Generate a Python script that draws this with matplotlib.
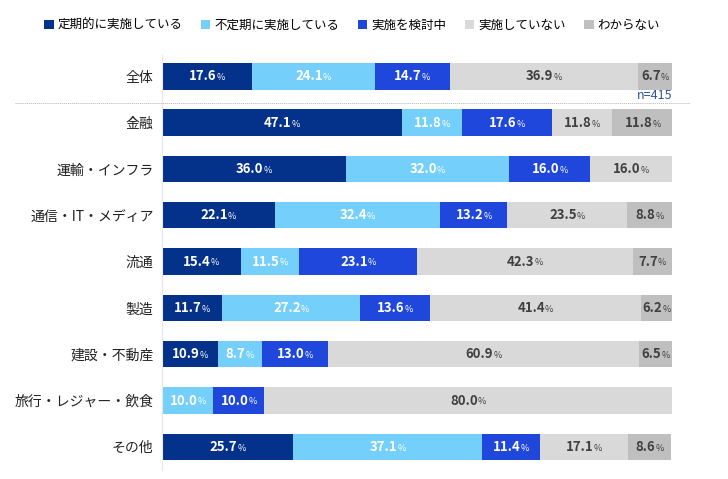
import matplotlib
matplotlib.use("Agg")
import matplotlib.pyplot as plt
from matplotlib.patches import Patch
from matplotlib.lines import Line2D

plt.rcParams['font.family'] = ['Noto Sans CJK JP', 'DejaVu Sans']

categories = ["全体", "金融", "運輸・インフラ", "通信・IT・メディア", "流通", "製造",
              "建設・不動産", "旅行・レジャー・飲食", "その他"]
series_names = ["定期的に実施している", "不定期に実施している", "実施を検討中",
                "実施していない", "わからない"]
regular = [17.6, 47.1, 36.0, 22.1, 15.4, 11.7, 10.9, 0.0, 25.7]
irregular = [24.1, 11.8, 32.0, 32.4, 11.5, 27.2, 8.7, 10.0, 37.1]
considering = [14.7, 17.6, 16.0, 13.2, 23.1, 13.6, 13.0, 10.0, 11.4]
not_done = [36.9, 11.8, 16.0, 23.5, 42.3, 41.4, 60.9, 80.0, 17.1]
unknown = [6.7, 11.8, 0.0, 8.8, 7.7, 6.2, 6.5, 0.0, 8.6]
series = [regular, irregular, considering, not_done, unknown]

colors = ["#043189", "#74cffb", "#1f47dc", "#d9d9d9", "#bfbfbf"]
text_colors = ["white", "white", "white", "#404040", "#404040"]

fig = plt.figure(figsize=(7.28, 4.79), dpi=100)
ax = fig.add_axes([162 / 728, 1 - 470 / 479, 510 / 728, 415 / 479])

ypos = list(range(len(categories)))
left = [0.0] * len(categories)
for vals, col, tcol in zip(series, colors, text_colors):
    ax.barh(ypos, vals, left=left, height=0.57, color=col, edgecolor="none")
    for i, v in enumerate(vals):
        if v <= 0:
            continue
        cx = left[i] + v / 2
        t = ax.annotate("{:.1f}".format(v), xy=(cx, i), xytext=(-3, 0),
                        textcoords="offset points", ha="center", va="center",
                        fontsize=9.5, fontweight="bold", color=tcol)
        ax.annotate("%", xy=(1, 0.08), xycoords=t, ha="left", va="bottom",
                    fontsize=6.5, color=tcol)
    left = [a + b for a, b in zip(left, vals)]

ax.set_xlim(0, 100)
ax.set_ylim(8.5, -0.46)
ax.set_yticks(ypos)
ax.set_yticklabels(categories, fontsize=10, color="#222222")
ax.tick_params(axis="y", length=0, pad=6)
ax.set_xticks([])
for s in ["top", "right", "bottom"]:
    ax.spines[s].set_visible(False)
ax.spines["left"].set_color("#e6e6e6")
ax.spines["left"].set_linewidth(0.8)

ax.text(100, 0.42, "n=415", ha="right", va="center", fontsize=9, color="#2f5597")

# dotted separator under the total row
fig.add_artist(Line2D([15 / 728, 690 / 728], [1 - 103 / 479, 1 - 103 / 479],
                      color="#b5b5b5", linewidth=0.7, linestyle=(0, (1, 1))))

handles = [Patch(facecolor=c, edgecolor="none") for c in colors]
fig.legend(handles, series_names, loc="center", bbox_to_anchor=(352 / 728, 1 - 25 / 479),
           ncol=5, frameon=False, fontsize=9, handlelength=0.75, handleheight=0.75,
           handletextpad=0.3, columnspacing=1.5)

fig.savefig("out.png", dpi=100)
